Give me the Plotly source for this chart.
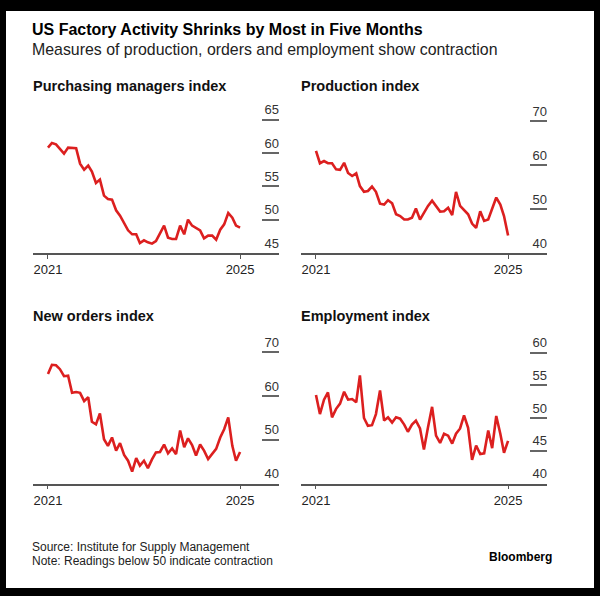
import pandas as pd
import plotly.graph_objects as go

# monthly ISM readings, Apr 2021 - Apr 2025
months = pd.date_range("2021-04-01", "2025-04-01", freq="MS")

pmi = [60.8, 61.5, 61.3, 60.6, 59.9, 60.8, 60.7, 60.7, 58.4, 57.5,
       58.1, 57.2, 55.5, 56.0, 53.6, 53.1, 53.0, 51.4, 50.6, 49.4,
       48.4, 47.8, 47.8, 46.5, 46.9, 46.6, 46.4, 46.8, 48.0, 49.1,
       47.3, 47.1, 47.1, 49.1, 47.8, 50.0, 49.1, 48.7, 48.4, 47.2,
       47.6, 47.6, 47.0, 48.5, 49.3, 51.0, 50.3, 49.1, 48.8]

production = [63.2, 60.4, 60.9, 60.4, 60.4, 59.0, 58.9, 60.5, 58.2, 57.5,
              58.1, 55.2, 53.9, 54.1, 55.1, 53.9, 51.2, 51.0, 52.0, 51.3,
              48.8, 48.4, 47.6, 47.6, 48.0, 50.1, 47.6, 49.2, 50.7, 51.9,
              50.7, 49.4, 49.5, 50.3, 48.6, 53.9, 50.7, 49.7, 48.8, 46.7,
              45.7, 49.5, 47.3, 47.6, 50.3, 52.6, 51.0, 48.4, 44.0]

new_orders = [65.0, 67.1, 67.0, 66.1, 64.5, 64.6, 60.7, 60.9, 60.7, 58.8,
              59.7, 54.1, 53.5, 56.0, 50.1, 48.6, 50.5, 47.5, 49.2, 46.5,
              45.2, 42.7, 45.8, 44.1, 45.2, 43.5, 45.5, 47.1, 47.2, 48.9,
              46.9, 48.0, 46.7, 52.1, 48.3, 50.3, 48.8, 46.4, 48.9, 47.5,
              45.6, 46.7, 47.9, 50.5, 52.4, 55.1, 48.6, 45.2, 47.2]

employment = [53.5, 50.6, 52.8, 53.9, 50.1, 51.4, 52.2, 54.0, 52.8, 52.9,
              52.4, 56.5, 50.0, 48.8, 48.9, 50.6, 54.2, 49.6, 50.1, 49.3,
              50.1, 49.9, 49.0, 47.9, 49.0, 49.6, 48.4, 45.2, 48.6, 51.7,
              47.3, 46.2, 47.6, 47.3, 46.1, 47.6, 48.4, 50.4, 48.5, 43.6,
              45.8, 44.5, 44.6, 48.1, 45.4, 50.3, 47.6, 44.7, 46.5]

panel_titles = ["Purchasing managers index", "Production index",
                "New orders index", "Employment index"]
y_ticks = [[45, 50, 55, 60, 65], [40, 50, 60, 70],
           [40, 50, 60, 70], [40, 45, 50, 55, 60]]
x_ticktext = ["2021", "2025"]

W, H = 600, 596
RED = "#dc1f1f"
FONT = "Liberation Sans"


def px_x(x):
    return x / W


def px_y(y):
    return 1 - y / H


# panel geometry in pixels: (left, right, top, bottom, ymin, px per unit)
panels = [
    (33, 279, 96, 253, 45, 6.67),
    (301, 547, 96, 253, 40, 4.40),
    (33, 279, 326, 483.5, 40, 4.38),
    (301, 547, 326, 483.5, 40, 6.55),
]
title_y = [86, 86, 316, 316]
series = [pmi, production, new_orders, employment]

fig = go.Figure()
layout = {}
annotations = []

x_range = [months[0] - pd.Timedelta(days=114), months[-1] + pd.Timedelta(days=296)]

for i, (vals, (l, r, t, b, ymin, ppu)) in enumerate(zip(series, panels)):
    n = "" if i == 0 else str(i + 1)
    fig.add_trace(go.Scatter(x=months, y=vals, mode="lines",
                             line=dict(color=RED, width=2.6),
                             xaxis="x" + n, yaxis="y" + n,
                             showlegend=False, hoverinfo="x+y"))
    ymax = ymin + (b - t) / ppu
    layout["xaxis" + n] = dict(
        domain=[px_x(l), px_x(r)], anchor="y" + n, type="date",
        range=x_range, tickvals=[months[0], months[-1]], ticktext=x_ticktext,
        ticks="outside", ticklen=4, tickwidth=1.2, tickcolor="#555",
        showline=True, linecolor="#555", linewidth=1.5,
        showgrid=False, zeroline=False,
        tickfont=dict(family=FONT, size=13, color="#222"),
    )
    layout["yaxis" + n] = dict(
        domain=[px_y(b), px_y(t)], anchor="x" + n, side="right",
        range=[ymin, ymax], tickvals=y_ticks[i],
        ticks="inside", ticklen=17, tickwidth=1.5, tickcolor="#666",
        ticklabelposition="inside top", ticklabelstandoff=-3,
        showline=False, showgrid=False, zeroline=False,
        tickfont=dict(family=FONT, size=13, color="#333"),
    )
    annotations.append(dict(
        text="<b>" + panel_titles[i] + "</b>", x=px_x(l - 2), y=px_y(title_y[i]),
        xref="paper", yref="paper", xanchor="left", yanchor="middle",
        showarrow=False, font=dict(family=FONT, size=14.5, color="#111"),
    ))

annotations += [
    dict(text="<b>US Factory Activity Shrinks by Most in Five Months</b>",
         x=px_x(30), y=px_y(30), xref="paper", yref="paper",
         xanchor="left", yanchor="middle", showarrow=False,
         font=dict(family=FONT, size=16, color="#000")),
    dict(text="Measures of production, orders and employment show contraction",
         x=px_x(30), y=px_y(49), xref="paper", yref="paper",
         xanchor="left", yanchor="middle", showarrow=False,
         font=dict(family=FONT, size=15.9, color="#222")),
    dict(text="Source: Institute for Supply Management",
         x=px_x(30), y=px_y(547), xref="paper", yref="paper",
         xanchor="left", yanchor="middle", showarrow=False,
         font=dict(family=FONT, size=12, color="#222")),
    dict(text="Note: Readings below 50 indicate contraction",
         x=px_x(30), y=px_y(561), xref="paper", yref="paper",
         xanchor="left", yanchor="middle", showarrow=False,
         font=dict(family=FONT, size=12, color="#222")),
    dict(text="<b>Bloomberg</b>",
         x=px_x(554), y=px_y(557), xref="paper", yref="paper",
         xanchor="right", yanchor="middle", showarrow=False,
         font=dict(family=FONT, size=12, color="#000")),
]

fig.update_layout(
    width=W, height=H,
    margin=dict(l=0, r=0, t=0, b=0),
    paper_bgcolor="black", plot_bgcolor="rgba(0,0,0,0)",
    annotations=annotations,
    shapes=[dict(type="rect", xref="paper", yref="paper",
                 x0=px_x(6), x1=px_x(594), y0=px_y(588), y1=px_y(11),
                 fillcolor="white", line=dict(width=0), layer="below")],
    **layout,
)

# drop the default page margin so the figure sits flush in the window
fig.write_html("out.html", config={"displayModeBar": False},
               post_script="document.body.style.margin='0';"
                           "document.body.style.overflow='hidden';")
